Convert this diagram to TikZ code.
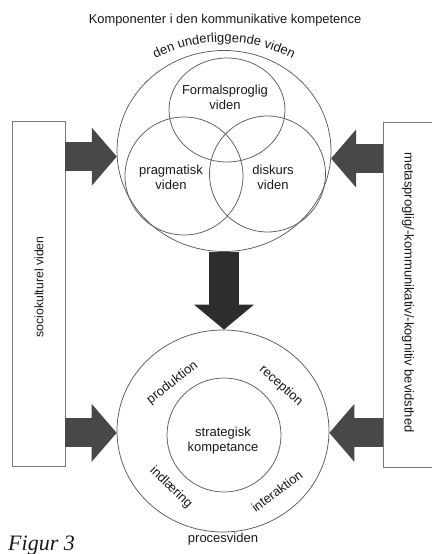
\documentclass[tikz,border=0pt]{standalone}
\usepackage{fontspec}
\setmainfont{Liberation Sans}
\newfontfamily\figfont{Liberation Serif}
\usetikzlibrary{shapes.geometric,arrows.meta,decorations.text}
\definecolor{linegray}{RGB}{90,90,90}
\definecolor{boxgray}{RGB}{120,120,120}
\definecolor{arrowgray}{RGB}{72,72,72}
\definecolor{arrowdark}{RGB}{45,45,45}
\definecolor{txt}{RGB}{25,25,25}
\begin{document}
\begin{tikzpicture}[x=1pt,y=1pt,
  ring/.style={ellipse, draw=linegray, line width=0.75pt, inner sep=0pt},
  sidebox/.style={rectangle, draw=boxgray, line width=0.75pt, inner sep=0pt},
  lbl/.style={text=txt, font=\fontsize{13}{15}\selectfont, align=center, inner sep=0pt},
  blockarrow/.style={draw=arrowgray, line width=29pt,
    -{Triangle[length=25pt 0 0, width=58pt 0 0, line width=0pt, fill=arrowgray]}},
  darkarrow/.style={draw=arrowdark, line width=30pt,
    -{Triangle[length=25pt 0 0, width=60pt 0 0, line width=0pt, fill=arrowdark]}},
]
\useasboundingbox (0,0) rectangle (431,554);

% title
\node[lbl, font=\fontsize{12.9}{15}\selectfont, anchor=base] (title) at (225,530) {Komponenter i den kommunikative kompetence};

% upper group
\node[ring, minimum width=214pt, minimum height=201pt] (topout) at (224,403) {};
\node[ring, minimum width=116pt, minimum height=104pt] (form) at (227,444) {};
\node[ring, minimum width=118pt, minimum height=118pt] (prag) at (184,378) {};
\node[ring, minimum width=116pt, minimum height=116pt] (disk) at (267.5,380) {};
\node[lbl] (formt) at (225,457) {Formalsproglig\\viden};
\node[lbl] (pragt) at (171,377) {pragmatisk\\viden};
\node[lbl] (diskt) at (273,377) {diskurs\\viden};
\path[decorate, decoration={text along path,
  text={|\fontsize{13}{15}\selectfont\color{txt}|den underliggende viden},
  text align=center}]
  (224,362) ++(118:150) arc[start angle=118, end angle=62, radius=150];

% lower group
\node[ring, minimum width=212pt, minimum height=202pt] (botout) at (223,123) {};
\node[ring, minimum width=114pt, minimum height=114pt] (botin) at (224,119) {};
\node[lbl] (strat) at (223,113) {strategisk\\kompetance};
\node[lbl, rotate=38] (prod) at (172.5,171) {produktion};
\node[lbl, rotate=-42] (rec) at (281,168) {reception};
\node[lbl, rotate=-44] (indl) at (171,66) {indlæring};
\node[lbl, rotate=37] (inter) at (277,63) {interaktion};
\node[lbl] (proc) at (223,15) {procesviden};

% side boxes
\node[sidebox, minimum width=53pt, minimum height=345pt] (lbox) at (38.5,260.5) {};
\node[sidebox, minimum width=50pt, minimum height=345pt] (rbox) at (408,259.5) {};
\node[lbl, font=\fontsize{12.3}{14}\selectfont, rotate=90] (soc) at (39,267) {sociokulturel viden};
\node[lbl, rotate=-90] (meta) at (408,261.5) {metasproglig/-kommunikativ/-kognitiv bevidsthed};

% connector end points
\coordinate (tl) at (topout.183);
\coordinate (bl) at (botout.181);
\coordinate (tr) at (topout.356);
\coordinate (br) at (botout.359);

% block arrows
\draw[blockarrow] (lbox.east |- tl) -- (tl);
\draw[blockarrow] (lbox.east |- bl) -- (bl);
\draw[blockarrow] (rbox.west |- tr) -- (tr);
\draw[blockarrow] (rbox.west |- br) -- (br);
\draw[darkarrow] (topout.south) -- (topout.south |- botout.north);

% caption
\node[anchor=base west, inner sep=0pt, text=txt, font=\figfont\itshape\fontsize{22}{26}\selectfont] (fig) at (8,4) {Figur 3};
\end{tikzpicture}
\end{document}
